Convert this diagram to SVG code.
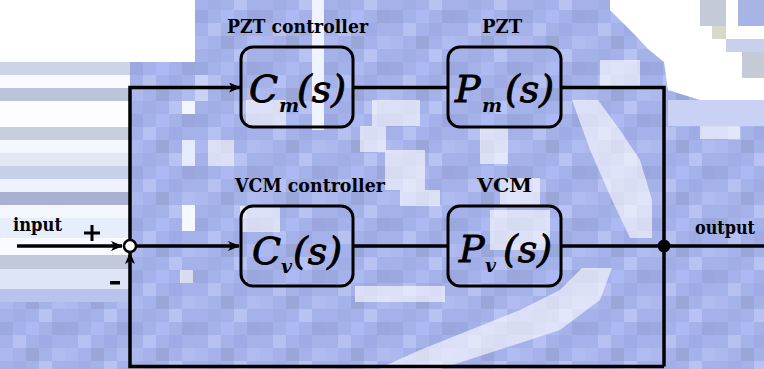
<svg xmlns="http://www.w3.org/2000/svg" width="764" height="369" viewBox="0 0 764 369">
  <defs>
    <!-- coarse blue mosaic used as the backdrop -->
    <pattern id="mosaic" x="0" y="10" width="65" height="52" patternUnits="userSpaceOnUse">
      <rect x="0" y="0" width="65" height="52" fill="#a5b2ea"/>
      <rect x="0" y="0" width="13" height="13" fill="#9ca9e0"/>
      <rect x="26" y="0" width="13" height="13" fill="#adb9f2"/>
      <rect x="52" y="0" width="13" height="13" fill="#9ba7dc"/>
      <rect x="13" y="13" width="13" height="13" fill="#b6c1f2"/>
      <rect x="39" y="13" width="13" height="13" fill="#9fabe4"/>
      <rect x="0" y="26" width="13" height="13" fill="#acb8ee"/>
      <rect x="26" y="26" width="13" height="13" fill="#9aa6d8"/>
      <rect x="52" y="26" width="13" height="13" fill="#b0bcf0"/>
      <rect x="13" y="39" width="13" height="13" fill="#a1aee6"/>
      <rect x="39" y="39" width="13" height="13" fill="#b8c3f4"/>
    </pattern>
    <marker id="arrow" markerWidth="12" markerHeight="10" refX="11" refY="5" orient="auto" markerUnits="userSpaceOnUse">
      <path d="M0,0 L12,5 L0,10 L3,5 Z" fill="#000"/>
    </marker>
    <style>
      .wire { fill: none; stroke: #000; stroke-width: 3.5; stroke-linejoin: miter; }
      .block { fill: none; stroke: #000; stroke-width: 3; }
      .label { font-family: "DejaVu Serif", serif; font-weight: bold; font-size: 19px; fill: #000; }
      .math { font-family: "DejaVu Serif", serif; font-style: italic; font-size: 38px; fill: #000; stroke: #000; stroke-width: 0.9; }
      .sub { font-family: "DejaVu Serif", serif; font-style: italic; font-weight: bold; font-size: 19px; fill: #000; }
      .haze { fill: #ffffff; }
    </style>
  </defs>

  <!-- backdrop -->
  <g id="backdrop">
    <rect x="0" y="0" width="764" height="369" fill="url(#mosaic)"/>
    <!-- open area top left -->
    <rect x="0" y="0" width="195" height="62" fill="#ffffff"/>
    <!-- horizontal bands on the left -->
    <rect x="0" y="62" width="130" height="13" fill="#cdd4e8"/>
    <rect x="0" y="75" width="130" height="13" fill="#f9f9fe"/>
    <rect x="0" y="88" width="130" height="13" fill="#b9c3da"/>
    <rect x="0" y="101" width="130" height="26" fill="#fdfdff"/>
    <rect x="0" y="127" width="130" height="13" fill="#c7cedc"/>
    <rect x="0" y="140" width="130" height="13" fill="#f2f8fd"/>
    <rect x="0" y="153" width="130" height="13" fill="#e1e7f3"/>
    <rect x="0" y="166" width="130" height="13" fill="#c8cfe8"/>
    <rect x="0" y="179" width="130" height="13" fill="#eef2fc"/>
    <rect x="0" y="192" width="130" height="13" fill="#a9b1d2"/>
    <rect x="0" y="205" width="130" height="13" fill="#f4f7fe"/>
    <rect x="0" y="218" width="130" height="20" fill="#e6eefb"/>
    <rect x="0" y="238" width="130" height="17" fill="#f8fbff"/>
    <rect x="0" y="255" width="130" height="14" fill="#c1c9da"/>
    <rect x="0" y="269" width="130" height="20" fill="#dde5f6"/>
    <rect x="0" y="289" width="130" height="13" fill="#b9c3ec"/>
    <!-- lighter column beside the left wire -->
    <rect x="182" y="101" width="13" height="13" fill="#f2f6ff"/>
    <rect x="182" y="140" width="13" height="26" fill="#e4ebfc"/>
    <rect x="182" y="205" width="13" height="26" fill="#f4f8ff"/>
    <rect x="195" y="75" width="13" height="26" fill="#c8d2f6"/>
    <rect x="312" y="0" width="12" height="130" fill="#eef3ff"/>
    <!-- open area top right -->
    <polygon class="haze" points="610,0 764,0 764,100 700,100 668,90 664,62 648,49 636,36 624,24 610,10"/>
    <rect x="700" y="0" width="26" height="26" fill="#c4cad8"/>
    <rect x="738" y="0" width="26" height="26" fill="#a8b4e4"/>
    <rect x="712" y="26" width="14" height="13" fill="#d8d9c8"/>
    <rect x="726" y="39" width="38" height="13" fill="#c8d0ec"/>
    <rect x="742" y="52" width="22" height="26" fill="#c4cad6"/>
    <rect x="668" y="100" width="96" height="26" fill="#c9d2f4"/>
    <!-- pale streaks across the middle -->
    <g opacity="0.6">
      <rect x="372" y="100" width="48" height="26" class="haze"/>
      <rect x="360" y="126" width="26" height="26" class="haze"/>
      <rect x="385" y="150" width="40" height="40" class="haze"/>
      <rect x="400" y="190" width="40" height="16" class="haze"/>
      <rect x="480" y="128" width="28" height="36" class="haze"/>
      <rect x="500" y="178" width="40" height="28" class="haze"/>
      <polygon class="haze" points="572,100 598,100 620,130 640,160 652,200 652,238 630,238 612,200 590,150"/>
      <rect x="600" y="60" width="40" height="26" class="haze"/>
      <polygon class="haze" points="582,268 612,268 600,300 560,330 440,369 378,369 420,350 520,310 560,290"/>
      <rect x="355" y="286" width="90" height="16" class="haze"/>
      <rect x="180" y="270" width="13" height="13" class="haze"/>
      <rect x="240" y="206" width="40" height="26" class="haze"/>
      <rect x="490" y="210" width="60" height="40" class="haze"/>
      <rect x="246" y="100" width="40" height="26" class="haze"/>
      <rect x="700" y="126" width="40" height="13" class="haze"/>
      <rect x="208" y="140" width="26" height="26" class="haze"/>
    </g>
  </g>

  <!-- connectors -->
  <g id="connectors">
    <!-- input into summing junction -->
    <line class="wire" x1="17" y1="246" x2="122" y2="246" marker-end="url(#arrow)"/>
    <!-- junction up to PZT controller -->
    <polyline class="wire" points="130,240 130,87.5 240,87.5" marker-end="url(#arrow)"/>
    <!-- junction to VCM controller -->
    <line class="wire" x1="136" y1="246" x2="239" y2="246" marker-end="url(#arrow)"/>
    <!-- controllers to plants -->
    <line class="wire" x1="354" y1="87.5" x2="448" y2="87.5"/>
    <line class="wire" x1="354" y1="246" x2="448" y2="246"/>
    <!-- plant outputs down the right-hand side -->
    <polyline class="wire" points="561,87.5 664,87.5 664,366.5"/>
    <line class="wire" x1="561" y1="246" x2="664" y2="246"/>
    <!-- output -->
    <line class="wire" x1="664" y1="246" x2="764" y2="246"/>
    <!-- feedback path -->
    <polyline class="wire" points="664,366.5 130,366.5 130,253" marker-end="url(#arrow)"/>
  </g>

  <!-- summing junction with its signs -->
  <g id="sum">
    <circle cx="130" cy="246" r="6" fill="#ffffff" stroke="#000" stroke-width="2.5"/>
    <rect x="84" y="231.5" width="16" height="3" fill="#000"/>
    <rect x="90.5" y="225" width="3" height="16" fill="#000"/>
    <rect x="110" y="281" width="10" height="3.5" fill="#000"/>
  </g>

  <!-- output take-off point -->
  <g id="takeoff">
    <circle cx="664" cy="246" r="6.5" fill="#000"/>
  </g>

  <g id="input-label">
    <text class="label" x="13" y="231" textLength="49" lengthAdjust="spacingAndGlyphs">input</text>
  </g>
  <g id="output-label">
    <text class="label" x="695" y="234" textLength="60" lengthAdjust="spacingAndGlyphs">output</text>
  </g>

  <!-- PZT controller -->
  <g id="pzt-controller">
    <rect class="block" x="241" y="47" width="112" height="80" rx="12" ry="12"/>
    <text class="label" x="227" y="33" textLength="141" lengthAdjust="spacingAndGlyphs">PZT controller</text>
    <text class="math" x="249" y="102">C</text>
    <text class="math" x="297" y="102">(s)</text>
    <text class="sub" x="279" y="112">m</text>
  </g>

  <!-- PZT plant -->
  <g id="pzt">
    <rect class="block" x="448" y="47" width="113" height="80" rx="12" ry="12"/>
    <text class="label" x="482" y="33" textLength="40" lengthAdjust="spacingAndGlyphs">PZT</text>
    <text class="math" x="455" y="102">P</text>
    <text class="math" x="505" y="102">(s)</text>
    <text class="sub" x="482" y="112">m</text>
  </g>

  <!-- VCM controller -->
  <g id="vcm-controller">
    <rect class="block" x="241" y="206" width="112" height="80" rx="12" ry="12"/>
    <text class="label" x="235" y="192" textLength="150" lengthAdjust="spacingAndGlyphs">VCM controller</text>
    <text class="math" x="252" y="264">C</text>
    <text class="math" x="293" y="264">(s)</text>
    <text class="sub" x="281" y="273">v</text>
  </g>

  <!-- VCM plant -->
  <g id="vcm">
    <rect class="block" x="448" y="206" width="113" height="80" rx="12" ry="12"/>
    <text class="label" x="477" y="192" textLength="55" lengthAdjust="spacingAndGlyphs">VCM</text>
    <text class="math" x="459" y="262">P</text>
    <text class="math" x="503" y="262">(s)</text>
    <text class="sub" x="485" y="272">v</text>
  </g>
</svg>
